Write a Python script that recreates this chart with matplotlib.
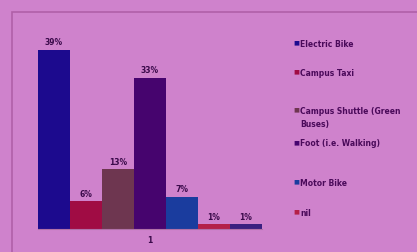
import matplotlib.pyplot as plt
from matplotlib.patches import Rectangle

# Data
categories = ['Electric Bike', 'Campus Taxi', 'Campus Shuttle (Green\nBuses)',
              'Foot (i.e. Walking)', 'Motor Bike', 'nil', '']
values = [39, 6, 13, 33, 7, 1, 1]
labels = ['39%', '6%', '13%', '33%', '7%', '1%', '1%']
colors = ['#1c0a8e', '#a00c44', '#6e3650', '#46046e', '#1a3c9e', '#b42048', '#3a2080']
group_ticks = ['1']

bg = '#cf82cc'

fig = plt.figure(figsize=(4.17, 2.52), dpi=100)
fig.patch.set_facecolor(bg)

# outer chart frame
fig.patches.append(Rectangle((12 / 417, -0.1), 1.2, (252 - 12) / 252 + 0.1,
                             transform=fig.transFigure, fill=False,
                             edgecolor='#b060a8', linewidth=1.2))

ax = fig.add_axes([38 / 417, 23 / 252, 224 / 417, 199 / 252])
ax.set_facecolor(bg)

n = len(values)
xs = [i - (n - 1) / 2 for i in range(n)]
bars = ax.bar(xs, values, width=1.0, color=colors, edgecolor='none')
for b, lab in zip(bars, labels):
    ax.text(b.get_x() + b.get_width() / 2, b.get_height() + 0.6, lab,
            ha='center', va='bottom', fontsize=5.5, fontweight='bold', color='#3a0a4a')

ax.set_xlim(-3.5, 3.5)
ax.set_ylim(0, 43.4)
ax.set_xticks([0])
ax.set_xticklabels(group_ticks, fontsize=5.5, fontweight='bold', color='#3a0a4a')
ax.tick_params(axis='x', length=0, pad=5)
ax.set_yticks([])
for side in ['top', 'right', 'left']:
    ax.spines[side].set_visible(False)
ax.spines['bottom'].set_color('#b070a8')
ax.spines['bottom'].set_linewidth(0.8)

# legend, drawn by hand to match the spacing in the reference
# (y in pixels of the first text line of each entry)
leg_y = [43, 72, 110, 143, 182, 212]
for name, col, y in zip(categories[:6], colors[:6], leg_y):
    fy = 1 - y / 252
    fig.text(293 / 417, fy, '\u25a0', fontsize=4.5, color=col, va='center', ha='left')
    fig.text(300 / 417, fy + 3.5 / 252, name, fontsize=5.5, fontweight='bold',
             color='#4a0a5a', va='top', ha='left', linespacing=1.6)

fig.savefig('out.png', dpi=100, facecolor=bg)
